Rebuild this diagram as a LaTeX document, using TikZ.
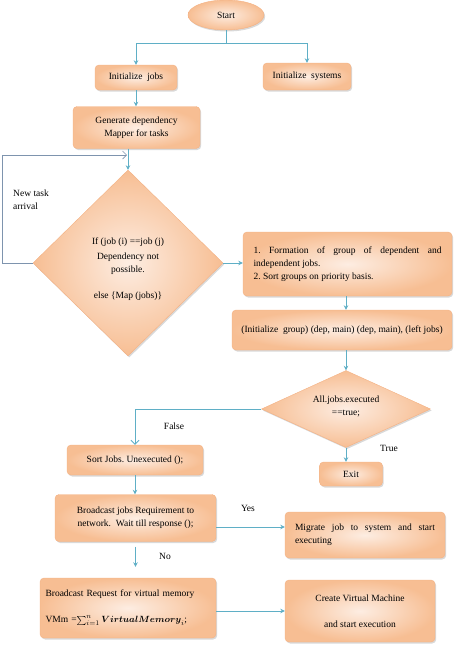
\documentclass[tikz,border=0pt]{standalone}
\usepackage{amsmath}
\usepackage{fontspec}
\setmainfont{Liberation Serif}
\usetikzlibrary{shapes.geometric,arrows.meta,shadows}
\definecolor{peachin}{HTML}{FDEDE2}
\definecolor{peachout}{HTML}{F7BE93}
\definecolor{peachedge}{HTML}{F4B183}
\definecolor{conncol}{HTML}{5FAFC6}
\definecolor{loopcol}{HTML}{7E94AE}
\newcommand{\nohyph}{\hyphenpenalty=10000\exhyphenpenalty=10000\tolerance=9999\frenchspacing\relax}
\tikzset{
  fillstyle/.style={shading=radial, inner color=peachin, outer color=peachout,
    draw=peachedge, line width=0.4pt,
    drop shadow={opacity=0.3, shadow xshift=1.2pt, shadow yshift=-1.5pt}},
  box/.style={fillstyle, rectangle, rounded corners=4pt, inner sep=3pt, align=center,
    font=\fontsize{9.5}{13}\selectfont\nohyph},
  dia/.style={fillstyle, diamond, inner sep=0pt},
  ell/.style={fillstyle, ellipse, inner sep=0pt, font=\fontsize{9.5}{13}\selectfont},
  conn/.style={draw=conncol, line width=0.8pt, -{Stealth[length=4.5pt,width=4.5pt]}},
  loopconn/.style={draw=loopcol, line width=0.7pt, -{Straight Barb[length=4pt,width=8pt]}},
  falseconn/.style={draw=conncol, line width=0.8pt, -{Straight Barb[length=4pt,width=8pt]}},
  lbl/.style={font=\fontsize{9.5}{13}\selectfont, inner sep=0pt},
}
\begin{document}
\begin{tikzpicture}[x=1pt,y=-1pt]
\useasboundingbox (0,0) rectangle (455,651);

\node[ell, minimum width=76pt, minimum height=30pt] (start) at (226,15) {Start};
\node[box, minimum width=82pt, minimum height=25pt] (initJobs) at (136,77.5) {Initialize\ \ jobs};
\node[box, minimum width=88pt, minimum height=27pt] (initSys) at (307,76.5) {Initialize\ \ systems};
\node[box, minimum width=127pt, minimum height=42pt] (gen) at (136.5,127.5) {Generate dependency\\Mapper for tasks};

\node[dia, minimum width=190pt, minimum height=186pt] (d1) at (128,263) {};
\node[lbl, align=center, font=\fontsize{9.5}{13.5}\selectfont] (d1text) at (128,269)
  {If (job (i) ==job (j)\\[1pt] Dependency not\\ possible.\\[12pt] else \{Map (jobs)\}};
\node[lbl, align=left, anchor=north west] (newtask) at (13,190) {New task\\arrival};

\node[box, minimum width=209pt, minimum height=64pt, text width=188pt, align=justify] (box1) at (347.5,264)
  {1. Formation of group of dependent and independent jobs.\\ 2. Sort groups on priority basis.};
\node[box, minimum width=220pt, minimum height=40pt] (box2) at (342,330)
  {(Initialize\ \ group) (dep, main) (dep, main), (left jobs)};

\node[dia, minimum width=169pt, minimum height=77pt] (d2) at (346,409) {};
\node[lbl, align=center] (d2text) at (346,406) {All.jobs.executed\\==true;};

\node[box, minimum width=136pt, minimum height=30pt] (sortj) at (135,460) {Sort Jobs.\ Unexecuted ();};
\node[box, minimum width=63pt, minimum height=24pt] (exitb) at (351,474) {Exit};

\node[box, minimum width=161pt, minimum height=47pt] (bcast) at (135.5,518)
  {Broadcast jobs Requirement to\\network.\ \ Wait till response ();};
\node[box, minimum width=160pt, minimum height=46pt, text width=140pt, align=justify] (migr) at (365,535)
  {Migrate job to system and start executing};

\node[box, minimum width=176pt, minimum height=60pt, text width=165pt, align=left,
  font=\fontsize{9.5}{26}\selectfont] (breq) at (128,608)
  {Broadcast Request for virtual memory\\VMm =$\sum_{i=1}^{n}\boldsymbol{VirtualMemory}_{i}$;};
\node[box, minimum width=150pt, minimum height=62pt, font=\fontsize{9.5}{26}\selectfont] (create) at (360,611)
  {Create Virtual Machine\\and start execution};

% labels
\node[lbl] (lfalse) at (174,426) {False};
\node[lbl] (ltrue) at (389,448) {True};
\node[lbl] (lyes) at (248,508) {Yes};
\node[lbl] (lno) at (165,556) {No};

% connectors
\coordinate (j1) at (226,43);
\draw[draw=conncol, line width=0.8pt] (start.south) -- (j1);
\draw[conn] (j1) -| (initJobs.north);
\draw[conn] (j1) -| (initSys.north);
\draw[conn] (initJobs.south) -- (gen.north -| initJobs.south);
\draw[conn] (d1.north |- gen.south) -- (d1.north);
\coordinate (fl) at (2,155);
\draw[loopconn] (d1.west) -| (fl) -- ([xshift=-1pt]d1.north |- fl);
\draw[conn] (d1.east) -- (box1.west |- d1.east);
\draw[conn] (box1.south -| d2.north) -- (box2.north -| d2.north);
\draw[conn] (box2.south -| d2.north) -- (d2.north);
\draw[falseconn] (d2.west) -| (sortj.north);
\draw[conn] (d2.south) -- (exitb.north -| d2.south);
\draw[conn] (sortj.south) -- (bcast.north -| sortj.south);
\coordinate (ya) at ([yshift=-9pt]bcast.east);
\draw[conn] (ya) -- (migr.west |- ya);
\draw[conn, shorten <=5pt, shorten >=11pt] (bcast.south) -- (breq.north -| bcast.south);
\coordinate (yb) at ([yshift=-3pt]breq.east);
\draw[conn] (yb) -- (create.west |- yb);
\end{tikzpicture}
\end{document}
